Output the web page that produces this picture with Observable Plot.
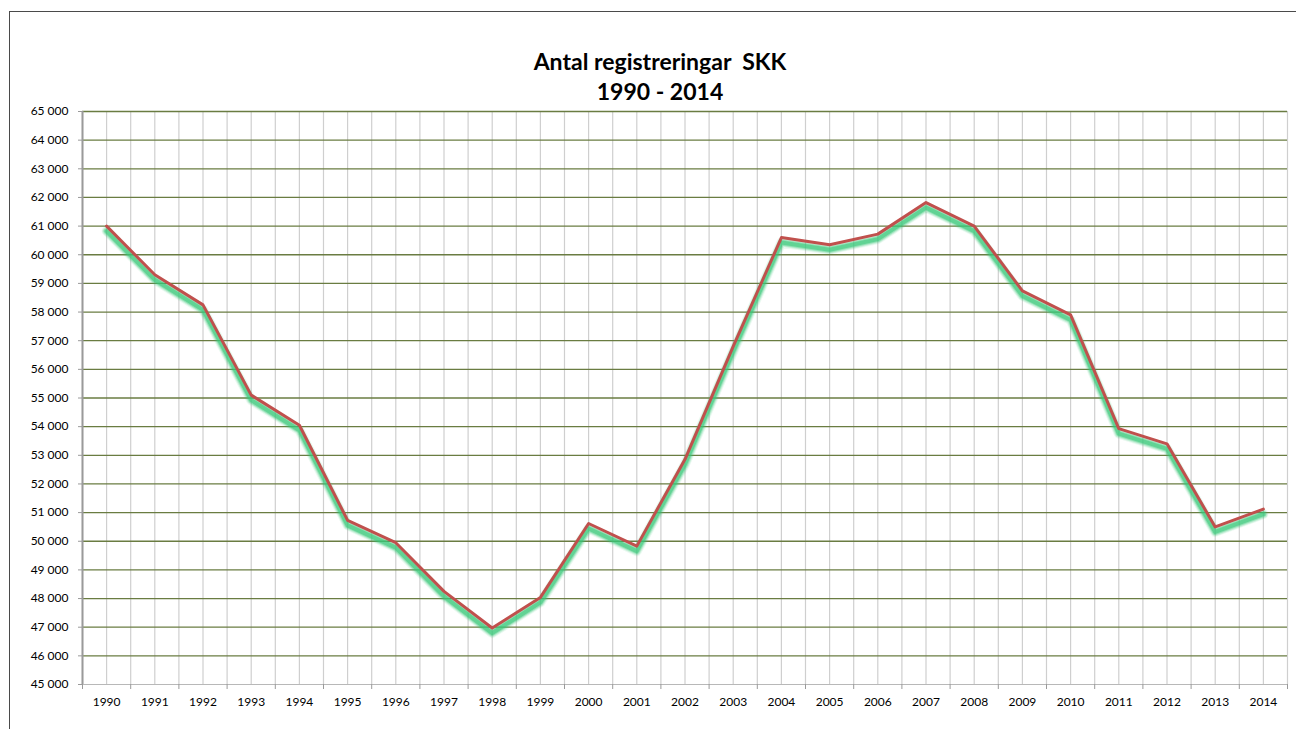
<!DOCTYPE html>
<html>
<head>
<meta charset="utf-8">
<script src="https://cdn.jsdelivr.net/npm/d3@7"></script>
<script src="https://cdn.jsdelivr.net/npm/@observablehq/plot@0.6"></script>
<style>
  html, body { margin: 0; padding: 0; background: #fff; width: 1296px; height: 729px; overflow: hidden; }
  body { position: relative; font-family: Lato, "Open Sans", sans-serif; }
  #frame { position: absolute; left: 9px; top: 11px; width: 1400px; height: 800px; border-left: 1.5px solid #4a4a4a; border-top: 1.5px solid #4a4a4a; box-sizing: border-box; }
  #title { position: absolute; left: 9px; width: 1302px; top: 46px; text-align: center; font-weight: bold; font-size: 23px; line-height: 30px; color: #000; }
  #chart { position: absolute; left: 0; top: 101px; }
</style>
</head>
<body>
<div id="frame"></div>
<div id="title">Antal registreringar&nbsp;&nbsp;SKK<br>1990 - 2014</div>
<div id="chart"></div>
<script>
const years = [1990, 1991, 1992, 1993, 1994, 1995, 1996, 1997, 1998, 1999, 2000, 2001, 2002,
               2003, 2004, 2005, 2006, 2007, 2008, 2009, 2010, 2011, 2012, 2013, 2014];
const registrations = [61000, 59300, 58250, 55100, 54050, 50730, 49950, 48250, 46970, 48040, 50620, 49830, 52860,
                       56800, 60600, 60350, 60720, 61820, 61000, 58740, 57900, 53930, 53400, 50500, 51120];
const yTicks = [45000, 46000, 47000, 48000, 49000, 50000, 51000, 52000, 53000, 54000, 55000,
                56000, 57000, 58000, 59000, 60000, 61000, 62000, 63000, 64000, 65000];

const data = years.map((y, i) => ({year: y, value: registrations[i]}));
const boundaries = [...years.map(y => y - 0.5), years[years.length - 1] + 0.5];
const gridX = [...boundaries, ...years];
const fmt = v => d3.format(",")(v).replace(/,/g, " ");

const glowLayers = [
  {w: 10, o: 0.10},
  {w: 8, o: 0.20},
  {w: 6, o: 0.35},
  {w: 4, o: 0.55}
];

const chart = Plot.plot({
  width: 1296,
  height: 628,
  marginTop: 10,
  marginLeft: 82,
  marginRight: 9,
  marginBottom: 45,
  x: {domain: [1989.5, 2014.5]},
  y: {domain: [45000, 65000]},
  style: {fontFamily: "Lato, 'Open Sans', sans-serif", fontSize: "12px", color: "#000", background: "transparent"},
  marks: [
    Plot.ruleX(gridX, {stroke: "#cfcfcf", strokeWidth: 1.2}),
    Plot.ruleY(yTicks.slice(1), {stroke: "#6a7c42", strokeWidth: 1.3}),
    Plot.ruleY([45000], {stroke: "#b8b8b8", strokeWidth: 1.2}),
    Plot.ruleX([1989.5], {stroke: "#9a9a9a", strokeWidth: 2}),
    Plot.axisY({ticks: yTicks, tickSize: 4, tickPadding: 10, tickFormat: fmt, label: null, stroke: "#9a9a9a"}),
    Plot.axisX({ticks: years, tickSize: 0, tickPadding: 13, tickFormat: d => String(d), label: null}),
    Plot.axisX({ticks: boundaries, tickSize: 5, tickFormat: () => "", label: null, stroke: "#9a9a9a"}),
    ...glowLayers.map(g => Plot.line(data, {x: "year", y: "value", stroke: "#36c979", strokeWidth: g.w,
                                            strokeOpacity: g.o, dy: 5, strokeLinejoin: "round"})),
    Plot.line(data, {x: "year", y: "value", stroke: "#c0504d", strokeWidth: 3})
  ]
});
document.getElementById("chart").appendChild(chart);
</script>
</body>
</html>
